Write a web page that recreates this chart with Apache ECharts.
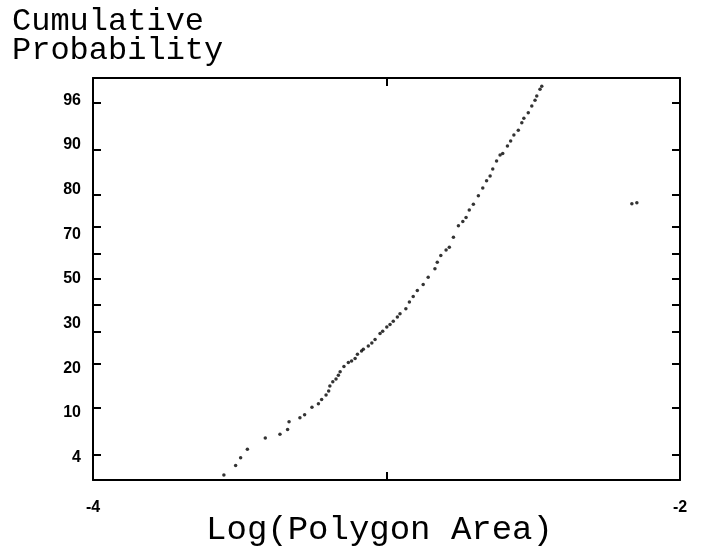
<!DOCTYPE html>
<html>
<head>
<meta charset="utf-8">
<script src="https://cdn.jsdelivr.net/npm/echarts@6/dist/echarts.min.js"></script>
<style>html,body{margin:0;padding:0;background:#fff;}#c{width:709px;height:550px;}</style>
</head>
<body>
<div id="c"></div>
<script>
// ---- data ----
const logArea = [-3.554,-3.514,-3.497,-3.474,-3.413,-3.363,-3.337,-3.332,-3.295,-3.279,
  -3.254,-3.232,-3.221,-3.206,-3.197,-3.193,-3.183,-3.172,-3.164,-3.158,
  -3.145,-3.130,-3.119,-3.107,-3.099,-3.085,-3.079,-3.062,-3.050,-3.039,
  -3.022,-3.013,-2.999,-2.988,-2.977,-2.963,-2.954,-2.934,-2.922,-2.909,
  -2.895,-2.875,-2.858,-2.835,-2.827,-2.815,-2.797,-2.786,-2.772,-2.755,
  -2.740,-2.729,-2.718,-2.704,-2.687,-2.672,-2.659,-2.647,-2.638,-2.625,
  -2.613,-2.604,-2.588,-2.577,-2.566,-2.551,-2.539,-2.532,-2.517,-2.505,
  -2.494,-2.488,-2.477,-2.471,-2.164,-2.147];
const cumProb = [2.56,3.17,3.77,4.51,5.68,6.13,6.70,7.79,8.37,8.85,
  10.08,10.72,11.53,12.42,13.28,14.33,15.32,16.0,16.94,17.78,
  19.22,20.30,20.75,21.43,22.73,23.69,24.20,25.27,26.23,27.33,
  29.35,30.13,31.64,32.58,33.67,35.25,36.52,38.36,40.91,43.10,
  45.47,47.81,50.71,54.02,56.63,59.20,61.40,62.39,66.08,70.21,
  71.68,72.99,75.38,77.18,79.62,81.73,83.57,84.75,86.29,88.0,
  89.15,89.39,90.72,91.52,92.40,93.05,93.99,94.52,95.09,95.73,
  96.23,96.56,97.05,97.25,77.3,77.6];
const probTicks = [96,90,80,70,60,50,40,30,20,10,4];
const probLabels = ['4','10','20','30','50','70','80','90','96'];
const xLabelValues = [-4,-2];
const xTickValues = [-3];
const yTitle = 'Cumulative\nProbability';
const xTitle = 'Log(Polygon Area)';

// normal quantile (probability-paper scale)
function probit(p){
  const a=[-3.969683028665376e+01,2.209460984245205e+02,-2.759285104469687e+02,1.383577518672690e+02,-3.066479806614716e+01,2.506628277459239e+00];
  const b=[-5.447609879822406e+01,1.615858368580409e+02,-1.556989798598866e+02,6.680131188771972e+01,-1.328068155288572e+01];
  const c=[-7.784894002430293e-03,-3.223964580411365e-01,-2.400758277161838e+00,-2.549671348340315e+00,4.374664141464968e+00,2.938163982698783e+00];
  const d=[7.784695709041462e-03,3.224671290700398e-01,2.445134137142996e+00,3.754408661907416e+00];
  const pl=0.02425, ph=1-pl; let q,r;
  if(p<pl){q=Math.sqrt(-2*Math.log(p));return (((((c[0]*q+c[1])*q+c[2])*q+c[3])*q+c[4])*q+c[5])/((((d[0]*q+d[1])*q+d[2])*q+d[3])*q+1);}
  if(p<=ph){q=p-0.5;r=q*q;return (((((a[0]*r+a[1])*r+a[2])*r+a[3])*r+a[4])*r+a[5])*q/(((((b[0]*r+b[1])*r+b[2])*r+b[3])*r+b[4])*r+1);}
  q=Math.sqrt(-2*Math.log(1-p));return -(((((c[0]*q+c[1])*q+c[2])*q+c[3])*q+c[4])*q+c[5])/((((d[0]*q+d[1])*q+d[2])*q+d[3])*q+1);
}

const pts = logArea.map((x,i)=>[x, probit(cumProb[i]/100)]);
const zTicks = probTicks.map(p=>probit(p/100));

const lineStyle = {color:'#000', width:2};
const tickStyle = {color:'#000', width:2};
const labFont = {color:'#000', fontFamily:'Liberation Sans', fontWeight:'bold', fontSize:16};
const mono = 'Liberation Mono';

const chart = echarts.init(document.getElementById('c'), null, {renderer:'canvas'});
chart.setOption({
  animation:false,
  backgroundColor:'#fff',
  title:{text:yTitle, left:7, top:2, textStyle:{fontFamily:mono, fontSize:32, fontWeight:'normal', color:'#000', lineHeight:29}},
  grid:{left:93, right:29, top:78, bottom:70, containLabel:false, outerBoundsMode:'none'},
  xAxis:[
    {type:'value', position:'bottom', min:-4, max:-2,
     axisLine:{show:true, onZero:false, lineStyle:lineStyle},
     axisTick:{show:true, inside:true, length:8, customValues:xTickValues, lineStyle:tickStyle},
     axisLabel:{show:true, customValues:xLabelValues, margin:20, ...labFont},
     splitLine:{show:false},
     name:xTitle, nameLocation:'middle', nameGap:32, nameMoveOverlap:false,
     nameTextStyle:{fontFamily:mono, fontSize:34, lineHeight:36, color:'#000', padding:[0,14,0,0]}},
    {type:'value', position:'top', min:-4, max:-2,
     axisLine:{show:true, onZero:false, lineStyle:lineStyle},
     axisTick:{show:true, inside:true, length:8, customValues:xTickValues, lineStyle:tickStyle},
     axisLabel:{show:false}, splitLine:{show:false}}
  ],
  yAxis:[
    {type:'value', position:'left', min:-2, max:2,
     axisLine:{show:true, onZero:false, lineStyle:lineStyle},
     axisTick:{show:true, inside:true, length:8, customValues:zTicks, lineStyle:tickStyle},
     axisLabel:{show:false}, splitLine:{show:false}},
    {type:'value', position:'right', min:-2, max:2,
     axisLine:{show:true, onZero:false, lineStyle:lineStyle},
     axisTick:{show:true, inside:true, length:8, customValues:zTicks, lineStyle:tickStyle},
     axisLabel:{show:false}, splitLine:{show:false}},
    {type:'category', position:'left', data:probLabels, boundaryGap:true,
     axisLine:{show:false}, axisTick:{show:false},
     axisLabel:{show:true, margin:12, ...labFont}, splitLine:{show:false}}
  ],
  series:[{
    type:'scatter', xAxisIndex:0, yAxisIndex:0, data:pts,
    symbol:'circle', symbolSize:3.5, itemStyle:{color:'#000'}, silent:true
  }]
});
</script>
</body>
</html>
